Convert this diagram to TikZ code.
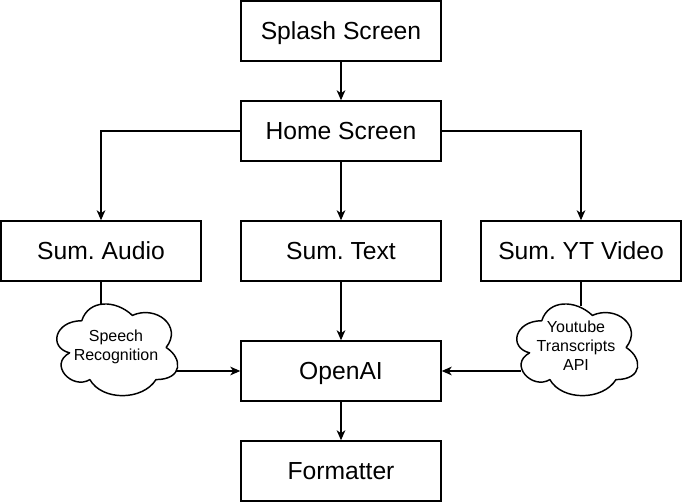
\documentclass[tikz,border=0pt]{standalone}
\usepackage{fontspec}
\setmainfont{Liberation Sans}
\usetikzlibrary{arrows.meta}
\frenchspacing
\begin{document}
\begin{tikzpicture}[x=0.75pt,y=-0.75pt,
 box/.style={draw, line width=1.1pt, minimum width=150pt, minimum height=45pt, inner sep=0pt, text height=13.25pt, text depth=0pt, font=\fontsize{18.5}{22}\selectfont\frenchspacing},
 ctext/.style={align=center, font=\fontsize{12}{14.25}\selectfont, inner sep=0pt},
 conn/.style={line width=1.1pt},
 arr/.style={conn, -{Stealth[length=7.5pt,width=6.5pt,inset=2.2pt]}},
 cloudline/.style={line width=1.1pt, line join=round}]
\useasboundingbox (0,0) rectangle (682,502);

\node[box] (splash) at (341,31) {Splash Screen};
\node[box] (home) at (341,131) {Home Screen};
\node[box] (audio) at (101,251) {Sum. Audio};
\node[box] (text) at (341,251) {Sum. Text};
\node[box] (yt) at (581,251) {Sum. YT Video};
\node[box] (openai) at (341,371) {OpenAI};
\node[box] (fmt) at (341,471) {Formatter};

% clouds
\begin{scope}[shift={(48,294)}, x=101.25pt, y=-80.25pt]
\draw[cloudline] (0.25,0.25) .. controls (0.05,0.25) and (0,0.5) .. (0.16,0.55)
 .. controls (0,0.66) and (0.18,0.9) .. (0.31,0.8)
 .. controls (0.4,1) and (0.7,1) .. (0.8,0.8)
 .. controls (1,0.8) and (1,0.6) .. (0.875,0.5)
 .. controls (1,0.3) and (0.8,0.1) .. (0.625,0.2)
 .. controls (0.5,0.05) and (0.3,0.05) .. (0.25,0.25) -- cycle;
\end{scope}
\begin{scope}[shift={(508,294)}, x=101.25pt, y=-80.25pt]
\draw[cloudline] (0.25,0.25) .. controls (0.05,0.25) and (0,0.5) .. (0.16,0.55)
 .. controls (0,0.66) and (0.18,0.9) .. (0.31,0.8)
 .. controls (0.4,1) and (0.7,1) .. (0.8,0.8)
 .. controls (1,0.8) and (1,0.6) .. (0.875,0.5)
 .. controls (1,0.3) and (0.8,0.1) .. (0.625,0.2)
 .. controls (0.5,0.05) and (0.3,0.05) .. (0.25,0.25) -- cycle;
\end{scope}
\node[ctext] (speech) at (116,347) {Speech\\Recognition};
\node[ctext] (ytapi) at (576,346) {Youtube\\Transcripts\\API};

\coordinate (sptop) at (101,305);
\coordinate (spright) at (176,371);
\coordinate (yttop) at (581,306);
\coordinate (ytleft) at (521,371);

\draw[arr] (splash.south) -- (home.north);
\draw[arr] (home.west) -| (audio.north);
\draw[arr] (home.east) -| (yt.north);
\draw[arr] (home.south) -- (text.north);
\draw[arr] (text.south) -- (openai.north);
\draw[arr] (openai.south) -- (fmt.north);
\draw[conn] (audio.south) -- (sptop);
\draw[conn] (yt.south) -- (yttop);
\draw[arr] (spright) -- (openai.west);
\draw[arr] (ytleft) -- (openai.east);
\end{tikzpicture}
\end{document}
